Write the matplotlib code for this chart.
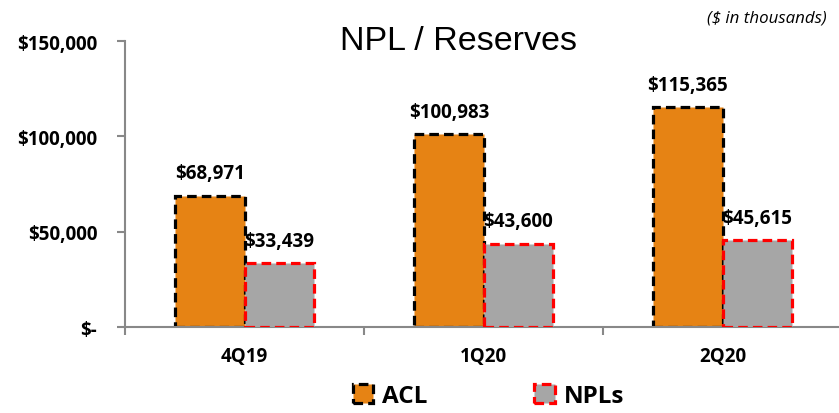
import matplotlib.pyplot as plt
from matplotlib.patches import Patch
import numpy as np

quarters = ['4Q19', '1Q20', '2Q20']
acl = [68971, 100983, 115365]
npls = [33439, 43600, 45615]

LBL = ['Open Sans', 'DejaVu Sans']
ORANGE = '#E68314'
GREY = '#A6A6A6'
AXGREY = '#888888'

fig = plt.figure(figsize=(8.39, 4.14), dpi=100)
ax = fig.add_axes([0.149, 0.2077, 0.8546, 0.6908])

x = np.arange(len(quarters))
w = 0.29
dash = (0, (3, 1.6))

b1 = ax.bar(x - w / 2, acl, w, color=ORANGE, edgecolor='black',
            linewidth=2.3, linestyle=dash, zorder=2)
b2 = ax.bar(x + w / 2, npls, w, color=GREY, edgecolor='#FF0000',
            linewidth=2.3, linestyle=dash, zorder=3)

for xi, v in zip(x, acl):
    ax.annotate('${:,}'.format(v), (xi - w / 2, v), xytext=(0, 9),
                textcoords='offset points', ha='center', va='bottom',
                fontsize=13.5, fontweight='bold', family=LBL)
for xi, v in zip(x, npls):
    ax.annotate('${:,}'.format(v), (xi + w / 2, v), xytext=(0, 9),
                textcoords='offset points', ha='center', va='bottom',
                fontsize=13.5, fontweight='bold', family=LBL)

ax.set_xlim(-0.5, 2.5)
ax.set_ylim(0, 150000)
ax.set_yticks([0, 50000, 100000, 150000])
ax.set_yticklabels(['$-', '$50,000', '$100,000', '$150,000'],
                   fontsize=13.5, fontweight='bold', family=LBL)
ax.set_xticks(x)
ax.set_xticklabels(quarters, fontsize=13.5, fontweight='bold', family=LBL)
ax.set_xticks([-0.5, 0.5, 1.5, 2.5], minor=True)
ax.tick_params(axis='x', which='major', length=0, pad=14)
ax.tick_params(axis='x', which='minor', length=6, color=AXGREY, width=1.5)
ax.tick_params(axis='y', length=6, color=AXGREY, width=1.5, pad=14)

for s in ['top', 'right']:
    ax.spines[s].set_visible(False)
for s in ['left', 'bottom']:
    ax.spines[s].set_color(AXGREY)
    ax.spines[s].set_linewidth(1.5)

fig.text(0.547, 0.9, 'NPL / Reserves', ha='center', va='center',
         fontsize=24.5, family='Liberation Sans')
fig.text(0.985, 0.955, '($ in thousands)', ha='right', va='center',
         fontsize=12.2, style='italic', family=LBL)

handles = [Patch(facecolor=ORANGE, edgecolor='black', linewidth=2.3, linestyle=dash),
           Patch(facecolor=GREY, edgecolor='#FF0000', linewidth=2.3, linestyle=dash)]
fig.legend(handles, ['ACL', 'NPLs'], loc='center', bbox_to_anchor=(0.582, 0.042),
           ncol=2, frameon=False, handlelength=0.85, handleheight=0.85,
           handletextpad=0.35, columnspacing=4.4, borderpad=0.1,
           prop={'family': LBL, 'weight': 'bold', 'size': 17.5})

fig.savefig('out.png', dpi=100)
